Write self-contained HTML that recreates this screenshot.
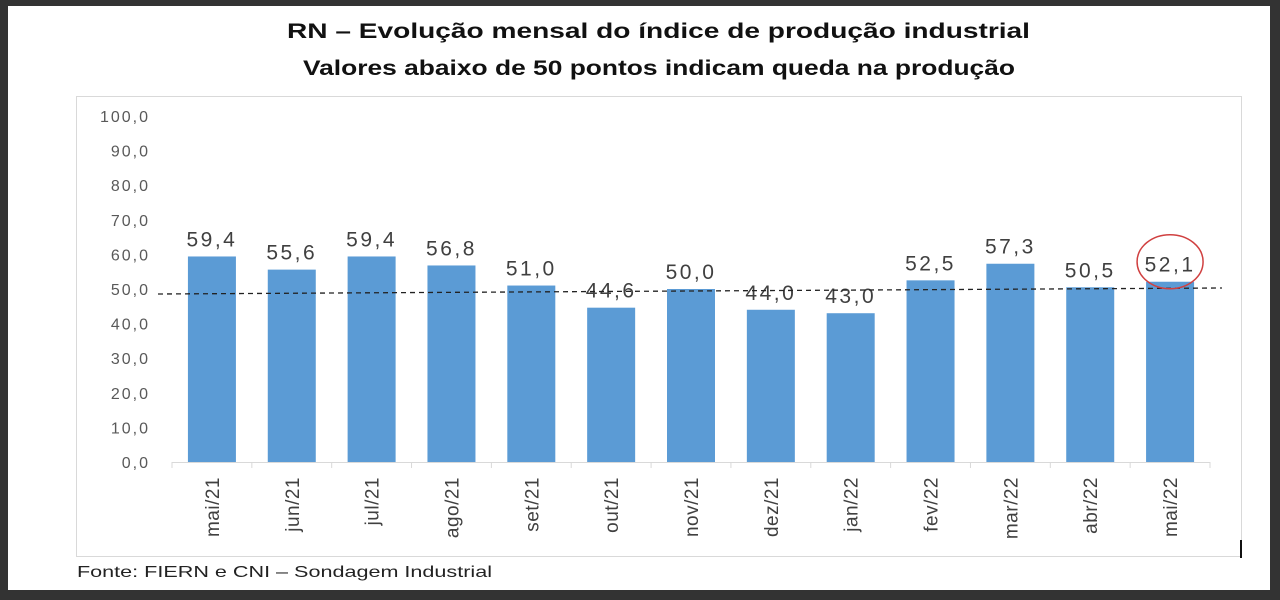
<!DOCTYPE html>
<html><head><meta charset="utf-8"><style>
body{margin:0;width:1280px;height:600px;background:#333;overflow:hidden;font-family:"Liberation Sans",sans-serif}
#wrap{position:absolute;left:8px;top:6px;width:1262px;height:584px;background:#fff}
</style></head><body>
<div id="wrap"></div>
<svg id="chart" width="1280" height="600" style="position:absolute;left:0;top:0">
<text x="287" y="38" textLength="743" lengthAdjust="spacingAndGlyphs" font-size="21" font-weight="bold" fill="#111">RN – Evolução mensal do índice de produção industrial</text>
<text x="303" y="75" textLength="712" lengthAdjust="spacingAndGlyphs" font-size="21" font-weight="bold" fill="#111">Valores abaixo de 50 pontos indicam queda na produção</text>
<rect x="76.5" y="96.5" width="1165" height="460" fill="none" stroke="#d9d9d9"/>
<g id="g"></g>
<text x="77" y="577" textLength="415" lengthAdjust="spacingAndGlyphs" font-size="16" fill="#222">Fonte: FIERN e CNI – Sondagem Industrial</text>
<rect x="1240" y="540" width="2" height="18" fill="#111"/>
</svg>
<script>
const categories=["mai/21","jun/21","jul/21","ago/21","set/21","out/21","nov/21","dez/21","jan/22","fev/22","mar/22","abr/22","mai/22"];
const values=[59.4,55.6,59.4,56.8,51.0,44.6,50.0,44.0,43.0,52.5,57.3,50.5,52.1];
const yTicks=[0,10,20,30,40,50,60,70,80,90,100];
const threshold=[50];
const NS="http://www.w3.org/2000/svg";
const g=document.getElementById('g');
const x0=172,x1=1210,yb=462,yt=116;
const step=(x1-x0)/categories.length;
const y=v=>yb-(v/100)*(yb-yt);
const xc=i=>x0+step*(i+0.5);
function mk(t,a){const e=document.createElementNS(NS,t);for(const k in a)e.setAttribute(k,a[k]);g.appendChild(e);return e;}
const fmt=v=>v.toFixed(1).replace('.',',');
yTicks.forEach(v=>{
 const t=mk('text',{x:150,y:y(v)+6,'text-anchor':'end','font-size':16,'letter-spacing':2,fill:'#595959'});
 t.textContent=fmt(v);
 
 
});
const ax=mk('line',{x1:x0,x2:x1,y1:yb+0.5,y2:yb+0.5,stroke:'#d9d9d9'});


for(let i=0;i<=categories.length;i++){
 const tk=mk('line',{x1:x0+step*i,x2:x0+step*i,y1:yb,y2:yb+6,stroke:'#d9d9d9'});
 
 
}
values.forEach((v,i)=>{
 const b=mk('rect',{x:xc(i)-24,y:y(v),width:48,height:yb-y(v),fill:'#5b9bd5'});
 
 
 const l=mk('text',{x:xc(i),y:y(v)-10,'text-anchor':'middle','font-size':21,'letter-spacing':2.5,fill:'#404040'});
 l.textContent=fmt(v);
 
 
 const c=mk('text',{transform:`translate(${xc(i)+7},477) rotate(-90)`,'text-anchor':'end','font-size':19,'letter-spacing':0.5,fill:'#404040'});
 c.textContent=categories[i];
 
 
});
const d=mk('line',{x1:158,x2:1222,y1:y(threshold[0])+5,y2:y(threshold[0])-1,stroke:'#222','stroke-width':1.3,'stroke-dasharray':'5,4'});


const li=values.length-1;
const ci=mk('ellipse',{cx:xc(li),cy:y(values[li])-20,rx:33,ry:27,fill:'none',stroke:'#d04040','stroke-width':1.5});


</script>
</body></html>
